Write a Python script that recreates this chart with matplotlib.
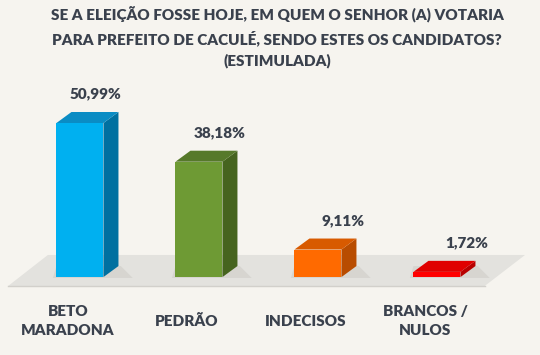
import numpy as np
import matplotlib.pyplot as plt
from matplotlib.patches import Polygon

# dados da pesquisa
categorias = ["BETO\nMARADONA", "PEDRÃO", "INDECISOS", "BRANCOS /\nNULOS"]
valores = [50.99, 38.18, 9.11, 1.72]
rotulos = ["50,99%", "38,18%", "9,11%", "1,72%"]
titulo = ("SE A ELEIÇÃO FOSSE HOJE, EM QUEM O SENHOR (A) VOTARIA\n"
          "PARA PREFEITO DE CACULÉ, SENDO ESTES OS CANDIDATOS?\n"
          "(ESTIMULADA)")

# cores: frente, topo, lateral
cores = [("#00b0f0", "#0a8cc4", "#0070a0"),
         ("#6e9a34", "#56792a", "#46641f"),
         ("#ff6a00", "#d85a00", "#b84c00"),
         ("#ff0000", "#e00000", "#b80000")]

fundo = "#f6f4ef"
texto = "#3a414d"
plt.rcParams['font.family'] = ['Lato', 'DejaVu Sans']

fig = plt.figure(figsize=(5.4, 3.55), dpi=100, facecolor=fundo)
ax = fig.add_axes([0, 0, 1, 1])
ax.set_facecolor(fundo)
ax.set_xlim(-0.672, 3.866)
ax.set_ylim(-25.8, 91.7)
ax.axis("off")

n = len(valores)
larg = 0.395
dx, dy = 0.126, 3.64
peso = "heavy"

# piso
ax.add_patch(Polygon([(-0.605, -3.0), (n - 0.6, -3.0), (n - 0.26, 7.3), (-0.27, 7.3)],
                     closed=True, fc="#e3e2de", ec="none", zorder=0))
ax.plot([-0.605, n - 0.6], [-3.0, -3.0], color="#d2d0cb", lw=1, zorder=0)

for i, (v, (cf, ct, cl)) in enumerate(zip(valores, cores)):
    x0, x1 = i - larg / 2, i + larg / 2
    # sombra
    ax.add_patch(Polygon([(x0 - 0.03, -0.3), (x1 + dx + 0.12, -0.3),
                          (x1 + dx + 0.02, dy), (x0, dy)],
                         closed=True, fc="#cfcdc8", ec="none", alpha=0.6, zorder=1))
    # lateral
    ax.add_patch(Polygon([(x1, 0), (x1 + dx, dy), (x1 + dx, v + dy), (x1, v)],
                         closed=True, fc=cl, ec="none", zorder=2))
    # topo
    ax.add_patch(Polygon([(x0, v), (x1, v), (x1 + dx, v + dy), (x0 + dx, v + dy)],
                         closed=True, fc=ct, ec="none", zorder=2))
    # frente
    ax.bar(i, v, width=larg, color=cf, zorder=3)
    ax.text(i + 0.13 + 0.04 * i, v + dy + 6.0, rotulos[i], ha="center", va="center",
            fontsize=11, fontweight=peso, color=texto)
    ax.text(i - 0.1, -14.6, categorias[i], ha="center", va="center",
            fontsize=11, fontweight=peso, color=texto, linespacing=1.6)

fig.text(277 / 540, 1 - 37 / 355, titulo, ha="center", va="center",
         fontsize=11, fontweight=peso, color=texto, linespacing=1.6)

fig.savefig("out.png", dpi=100, facecolor=fundo)
